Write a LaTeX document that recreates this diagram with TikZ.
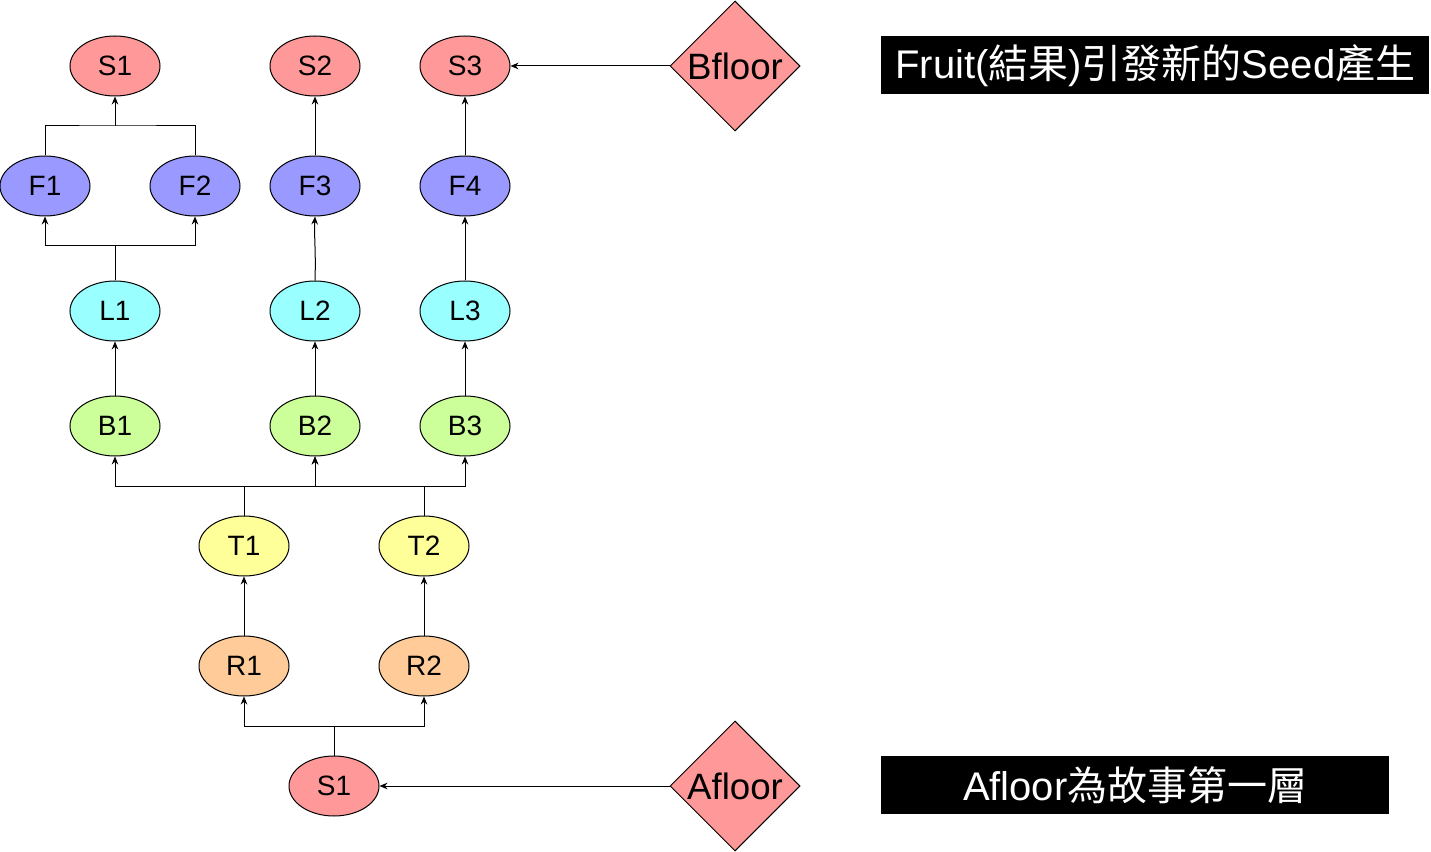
\documentclass[tikz,border=0pt]{standalone}
\usepackage{fontspec}
\setmainfont{Liberation Sans}
\newfontfamily\cjk{Noto Sans CJK TC}
\usetikzlibrary{shapes.geometric,arrows.meta}
\definecolor{cS}{HTML}{FF9999}
\definecolor{cF}{HTML}{9999FF}
\definecolor{cL}{HTML}{99FFFF}
\definecolor{cB}{HTML}{CCFF99}
\definecolor{cT}{HTML}{FFFF99}
\definecolor{cR}{HTML}{FFCC99}
\begin{document}
\begin{tikzpicture}[x=0.75pt,y=-0.75pt,
 ell/.style={ellipse,draw,line width=0.75pt,minimum width=67.5pt,minimum height=45pt,inner sep=0pt,font=\fontsize{21}{24}\selectfont},
 dia/.style={diamond,draw,line width=0.75pt,fill=cS,minimum width=97.5pt,minimum height=97.5pt,inner sep=0pt,font=\fontsize{27.5}{30}\selectfont},
 conn/.style={line width=0.75pt},
 arr/.style={conn,-{Stealth[length=6pt,width=5pt]}},
 lbl/.style={fill=black,text=white,inner sep=0pt,font=\fontsize{30}{34}\selectfont,minimum height=43.5pt,anchor=north west}]
\useasboundingbox (0,0) rectangle (1431,852);
% top row
\node[ell,fill=cS] (s1) at (115,66) {S1};
\node[ell,fill=cS] (s2) at (315,66) {S2};
\node[ell,fill=cS] (s3) at (465,66) {S3};
\node[ell,fill=cF] (f1) at (45,186) {F1};
\node[ell,fill=cF] (f2) at (195,186) {F2};
\node[ell,fill=cF] (f3) at (315,186) {F3};
\node[ell,fill=cF] (f4) at (465,186) {F4};
\node[ell,fill=cL] (l1) at (115,311) {L1};
\node[ell,fill=cL] (l2) at (315,311) {L2};
\node[ell,fill=cL] (l3) at (465,311) {L3};
\node[ell,fill=cB] (b1) at (115,426) {B1};
\node[ell,fill=cB] (b2) at (315,426) {B2};
\node[ell,fill=cB] (b3) at (465,426) {B3};
\node[ell,fill=cT] (t1) at (244,546) {T1};
\node[ell,fill=cT] (t2) at (424,546) {T2};
\node[ell,fill=cR] (r1) at (244,666) {R1};
\node[ell,fill=cR] (r2) at (424,666) {R2};
\node[ell,fill=cS] (s1b) at (334,786) {S1};
\node[dia] (bf) at (735,66) {\makebox[0pt]{Bfloor}};
\node[dia] (af) at (735,786) {\makebox[0pt]{Afloor}};
% labels
\node[lbl,minimum width=411pt] (lb1) at (881,36) {Fruit(\cjk 結果\rmfamily)\cjk 引發新的\rmfamily Seed\cjk 產生};
\node[lbl,minimum width=381pt] (lb2) at (881,756) {Afloor\cjk 為故事第一層};
% connectors
\coordinate (jf) at (115,126);
\draw[conn] (f1.north) |- (jf) -| (f2.north);
\draw[arr] (jf) -- (s1.south);
\draw[arr] (f3) -- (s2);
\draw[arr] (f4) -- (s3);
\coordinate (jl) at (115,246);
\draw[conn] (l1.north) -- (jl);
\draw[arr] (jl) -| (f1.south);
\draw[arr] (jl) -| (f2.south);
\draw[arr] (l2.north) .. controls +(1,-30) and +(-1,20) .. (f3.south);
\draw[arr] (l3) -- (f4);
\draw[arr] (b1) -- (l1);
\draw[arr] (b2) -- (l2);
\draw[arr] (b3) -- (l3);
\coordinate (jt) at (244,486);
\coordinate (jt2) at (424,486);
\draw[conn] (t1.north) -- (jt);
\draw[conn] (t2.north) -- (jt2);
\draw[arr] (jt) -| (b1.south);
\draw[arr] (jt) -| (b2.south);
\draw[arr] (jt2) -| (b2.south);
\draw[arr] (jt2) -| (b3.south);
\draw[arr] (r1) -- (t1);
\draw[arr] (r2) -- (t2);
\coordinate (js) at (334,726);
\draw[conn] (s1b.north) -- (js);
\draw[arr] (js) -| (r1.south);
\draw[arr] (js) -| (r2.south);
\draw[arr] (bf.west) -- (s3.east);
\draw[arr] (af.west) -- (s1b.east);
\end{tikzpicture}
\end{document}
